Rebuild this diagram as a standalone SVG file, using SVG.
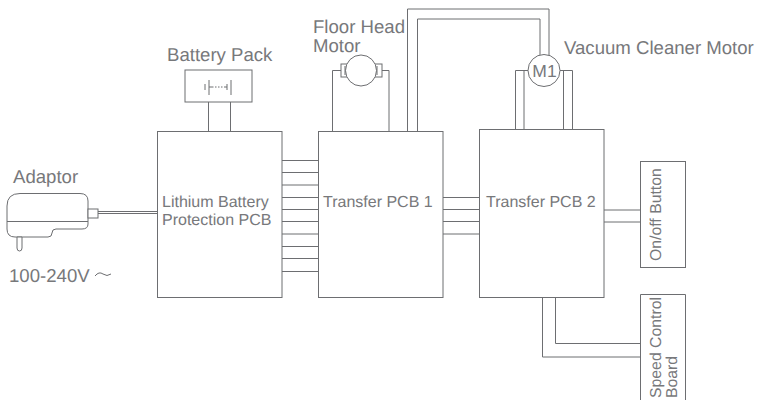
<svg xmlns="http://www.w3.org/2000/svg" width="758" height="400" viewBox="0 0 758 400">
<style>
.s{fill:none;stroke:#6d6e71;stroke-width:1}
.w{fill:#fff;stroke:#6d6e71;stroke-width:1}
.t{font-family:"Liberation Sans",Arial,sans-serif;font-size:18.600px;fill:#77787b;text-rendering:geometricPrecision}
.m{font-size:16px}
.v{font-size:15.800px}
.n{font-size:17.500px}
</style>
<rect width="758" height="400" fill="#fff"/>
<g id="connectors">
<path class="s" d="M98 211.500H157.500M98 213.500H157.500"/>
<path class="s" d="M208.500 102V131.500M230.500 102V131.500"/>
<path class="s" d="M282 160.500H318M282 172.500H318M282 185H318M282 197.500H318M282 209.500H318M282 221.500H318M282 234H318M282 246.500H318M282 258.500H318M282 271.500H318"/>
<path class="s" d="M443 197.500H479M443 209.500H479M443 221.500H479M443 234H479"/>
<path class="s" d="M604 210H640.500M604 222H640.500"/>
<path class="s" d="M542.500 298V357H640.500M555.500 298V343.500H640.500"/>
<path class="s" d="M332.500 131.500V70.500H343M389 131.500V70.500H379"/>
<path class="s" d="M407.500 131.500V9H549V58M417.500 131.500V19H540V58"/>
<path class="s" d="M515.500 129.500V70.500H530M524 129.500V70.500M563.500 129.500V70.500M572.500 129.500V70.500H558"/>
</g>
<g id="adaptor">
<path class="w" d="M20 193.500H80Q88 193.500 88 201V224Q88 229 82 229H56Q52 229 52 233Q52 237 48 237H15Q7 237 7 229V206Q7 193.500 20 193.500Z"/>
<path class="s" d="M7 221.500H88"/>
<rect class="w" x="88" y="209" width="10" height="9"/>
<path class="w" d="M17 237H22V248Q22 251 19.500 251Q17 251 17 248Z"/>
<text class="t" x="13" y="183">Adaptor</text>
<text class="t" x="9" y="281.500">100-240V</text>
<path class="s" d="M95 276Q99 271 103 274T111 274"/>
</g>
<g id="battery-pack">
<rect class="w" x="185" y="70" width="67" height="32"/>
<path class="s" d="M205 84V90M209 80V95M227 84V90M231 80V95M209 87H212M224 87H227"/>
<path class="s" d="M212 87H224" stroke-dasharray="1.500 1.500"/>
<text class="t" x="167" y="61">Battery Pack</text>
</g>
<g id="lithium-pcb">
<rect class="w" x="157.500" y="131.500" width="124.500" height="166"/>
<text class="t m" x="162" y="207">Lithium Battery</text>
<text class="t m" x="162" y="225">Protection PCB</text>
</g>
<g id="transfer-pcb-1">
<rect class="w" x="318.500" y="131.500" width="124.500" height="166"/>
<text class="t m" x="323" y="207">Transfer PCB 1</text>
</g>
<g id="transfer-pcb-2">
<rect class="w" x="479.500" y="129.500" width="124.500" height="168"/>
<text class="t m" x="486" y="207">Transfer PCB 2</text>
</g>
<g id="floor-head-motor">
<rect class="w" x="341" y="64" width="41" height="13"/>
<circle class="w" cx="361" cy="70.500" r="15.500"/>
<path class="s" d="M345 66V75M377 66V75"/>
<text class="t" x="313" y="33">Floor Head</text>
<text class="t" x="313" y="52">Motor</text>
</g>
<g id="vacuum-motor">
<circle class="w" cx="544" cy="70.500" r="16"/>
<text class="t n" x="544.500" y="76.500" text-anchor="middle">M1</text>
<text class="t" x="564" y="54">Vacuum Cleaner Motor</text>
</g>
<g id="on-off-button">
<rect class="w" x="640.500" y="161.500" width="45" height="106"/>
<text class="t v" transform="translate(660.500 261) rotate(-90)">On/off Button</text>
</g>
<g id="speed-control-board">
<path class="w" d="M640.500 400V294.500H685.500V400"/>
<text class="t v" transform="translate(660.500 398) rotate(-90)">Speed Control</text>
<text class="t v" transform="translate(677 398) rotate(-90)">Board</text>
</g>
</svg>
